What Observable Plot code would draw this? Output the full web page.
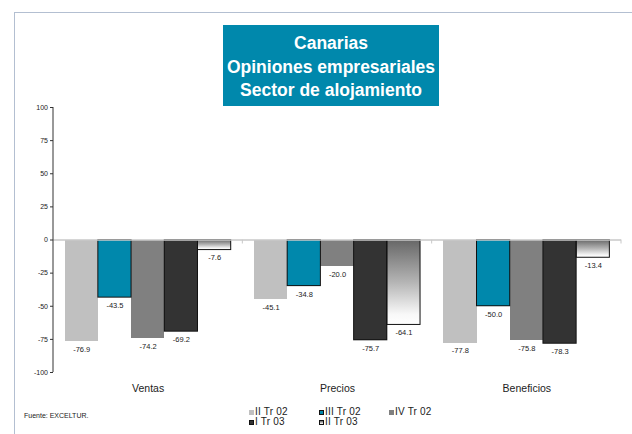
<!DOCTYPE html>
<html>
<head>
<meta charset="utf-8">
<script src="https://cdn.jsdelivr.net/npm/d3@7"></script>
<script src="https://cdn.jsdelivr.net/npm/@observablehq/plot@0.6"></script>
<style>
  html, body { margin: 0; padding: 0; background: #fff; }
  body { width: 632px; height: 434px; position: relative; overflow: hidden; font-family: "Liberation Sans", Arial, sans-serif; }
  #chart { position: absolute; left: 0; top: 0; }
  #frame { position: absolute; left: 14px; top: 12px; right: -5px; bottom: -5px; border-top: 1.5px solid #b3bfd1; border-left: 1.5px solid #b3bfd1; pointer-events: none; }
  #title { position: absolute; left: 223px; top: 25px; width: 216px; height: 81px; background: #0088ac; color: #fff; font-weight: bold; font-size: 17.5px; line-height: 23.5px; text-align: center; box-sizing: border-box; padding-top: 7px; }
  #source { position: absolute; left: 24px; top: 412px; font-size: 7px; color: #222; }
  .leg { position: absolute; font-size: 10px; color: #222; line-height: 10px; white-space: nowrap; letter-spacing: 0.2px; }
  .sw { display: inline-block; width: 5px; height: 5px; box-sizing: border-box; margin-right: 1px; vertical-align: 0px; }
</style>
</head>
<body>
<div id="chart"></div>
<div id="title">Canarias<br>Opiniones empresariales<br>Sector de alojamiento</div>
<div id="source">Fuente: EXCELTUR.</div>
<div id="legend"></div>
<div id="frame"></div>
<script>
const categories = ["Ventas", "Precios", "Beneficios"];
const series = ["II Tr 02", "III Tr 02", "IV Tr 02", "I Tr 03", "II Tr 03"];
const valuesIITr02 = [-76.9, -45.1, -77.8];
const valuesIIITr02 = [-43.5, -34.8, -50.0];
const valuesIVTr02 = [-74.2, -20.0, -75.8];
const valuesITr03 = [-69.2, -75.7, -78.3];
const valuesIITr03b = [-7.6, -64.1, -13.4];
const yTicks = [-100, -75, -50, -25, 0, 25, 50, 75, 100];

const seriesValues = [valuesIITr02, valuesIIITr02, valuesIVTr02, valuesITr03, valuesIITr03b];
const fills = ["#c0c0c0", "#0088ac", "#808080", "#333333", "url(#grad-ii03)"];
const stroked = new Set(["III Tr 02", "I Tr 03", "II Tr 03"]);

const data = [];
series.forEach((s, i) => {
  categories.forEach((c, j) => data.push({category: c, series: s, value: seriesValues[i][j]}));
});

const plot = Plot.plot({
  width: 632,
  height: 434,
  marginLeft: 53,
  marginRight: 11,
  marginTop: 107,
  marginBottom: 62,
  style: {fontFamily: "'Liberation Sans', Arial, sans-serif", background: "transparent", color: "#222"},
  fx: {domain: categories, paddingInner: 0, paddingOuter: 0, label: null, round: false},
  x: {domain: series, paddingInner: 0, paddingOuter: 0.35, axis: null, round: false},
  y: {domain: [-100, 100], label: null},
  color: {domain: series, range: fills},
  marks: [
    Plot.axisY({ticks: yTicks, tickSize: 3, tickPadding: 2.5, fontSize: 7, tickFormat: d => String(d), label: null, stroke: "#333"}),
    Plot.axisFx({anchor: "bottom", tickSize: 0, tickPadding: 12, fontSize: 10.5, label: null}),
    Plot.barY(data, {fx: "category", x: "series", y: "value", fill: "series", inset: 0, shapeRendering: "crispEdges"}),
    Plot.barY(data.filter(d => stroked.has(d.series)), {fx: "category", x: "series", y: "value", fill: "none", stroke: "#111", strokeWidth: 1, inset: 0}),
    Plot.ruleY([0], {stroke: "#c8c8c8", strokeWidth: 1.6}),
    Plot.text(data, {fx: "category", x: "series", y: "value", text: d => d.value.toFixed(1), dy: 8, fontSize: 7.5, fill: "#222"})
  ]
});

// gradient definition
const ns = "http://www.w3.org/2000/svg";
const defs = document.createElementNS(ns, "defs");
const grad = document.createElementNS(ns, "linearGradient");
grad.setAttribute("id", "grad-ii03");
grad.setAttribute("x1", "0"); grad.setAttribute("y1", "0");
grad.setAttribute("x2", "0"); grad.setAttribute("y2", "1");
[["0", "#666666"], ["0.5", "#b4b4b4"], ["0.88", "#f8f8f8"], ["1", "#ffffff"]].forEach(([o, c]) => {
  const st = document.createElementNS(ns, "stop");
  st.setAttribute("offset", o); st.setAttribute("stop-color", c);
  grad.appendChild(st);
});
defs.appendChild(grad);
plot.insertBefore(defs, plot.firstChild);

// axis line and category separators, from the plot's scales
const fx = plot.scale("fx");
const y = plot.scale("y");
const y0 = y.apply(0);
const g = document.createElementNS(ns, "g");
const addLine = (x1, y1, x2, y2, color, w) => {
  const l = document.createElementNS(ns, "line");
  l.setAttribute("x1", x1); l.setAttribute("y1", y1);
  l.setAttribute("x2", x2); l.setAttribute("y2", y2);
  l.setAttribute("stroke", color); l.setAttribute("stroke-width", w);
  g.appendChild(l);
};
const xLeft = fx.apply(categories[0]);
addLine(xLeft, y.apply(100), xLeft, y.apply(-100), "#333", 1);
categories.forEach(c => {
  const xb = fx.apply(c) + fx.bandwidth;
  addLine(xb, y0, xb, y0 + 4, "#c8c8c8", 1);
});
plot.appendChild(g);

document.getElementById("chart").appendChild(plot);

// legend
const legendPos = [[249, 407], [319, 407], [389, 407], [249, 417], [319, 417]];
const legend = document.getElementById("legend");
series.forEach((s, i) => {
  const div = document.createElement("div");
  div.className = "leg";
  div.style.left = legendPos[i][0] + "px";
  div.style.top = legendPos[i][1] + "px";
  const sw = document.createElement("span");
  sw.className = "sw";
  if (i === 4) sw.style.background = "linear-gradient(#666, #fff)";
  else sw.style.background = fills[i];
  if (stroked.has(s)) sw.style.border = "1px solid #111";
  div.appendChild(sw);
  div.appendChild(document.createTextNode(s));
  legend.appendChild(div);
});
</script>
</body>
</html>
